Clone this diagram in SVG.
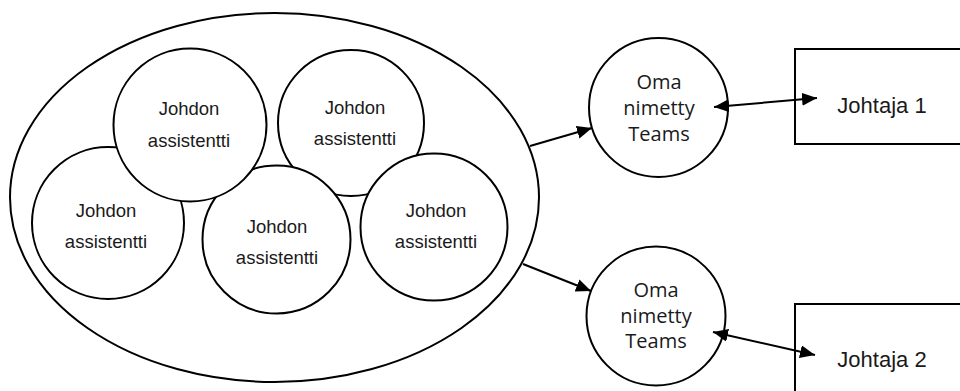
<svg xmlns="http://www.w3.org/2000/svg" width="960" height="391" viewBox="0 0 960 391">
<style>
.shape{fill:#fff;stroke:#000;stroke-width:2}
.a{font-family:"Liberation Sans",Arial,sans-serif;font-size:18.5px;fill:#1a1a1a;text-anchor:middle}
.o{font-family:"Open Sans","Liberation Sans",sans-serif;font-size:20px;fill:#1a1a1a;text-anchor:middle}
.j{font-family:"Liberation Sans",Arial,sans-serif;font-size:22px;fill:#1a1a1a;text-anchor:middle}
.c{stroke:#000;stroke-width:2;fill:none}
</style>
<defs>
<marker id="ah" markerUnits="userSpaceOnUse" markerWidth="16" markerHeight="14" refX="15" refY="6.5" orient="auto-start-reverse">
<path d="M0,0 L15,6.5 L0,13 z" fill="#000"/>
</marker>
</defs>
<rect width="960" height="391" fill="#fff"/>
<g id="group">
<ellipse class="shape" cx="274.5" cy="197.5" rx="264.5" ry="184.5"/>
</g>
<g id="assistentti3">
<circle class="shape" cx="108" cy="223" r="76"/>
<text class="a" x="106" y="217">Johdon</text>
<text class="a" x="106" y="248">assistentti</text>
</g>
<g id="assistentti2">
<circle class="shape" cx="351" cy="123" r="73"/>
<text class="a" x="355" y="114">Johdon</text>
<text class="a" x="355" y="145">assistentti</text>
</g>
<g id="assistentti4">
<circle class="shape" cx="276.5" cy="239.5" r="74"/>
<text class="a" x="277" y="233">Johdon</text>
<text class="a" x="277" y="264">assistentti</text>
</g>
<g id="assistentti5">
<circle class="shape" cx="434" cy="227" r="73.5"/>
<text class="a" x="436" y="217">Johdon</text>
<text class="a" x="436" y="248">assistentti</text>
</g>
<g id="assistentti1">
<circle class="shape" cx="190" cy="125" r="76.5"/>
<text class="a" x="189" y="115">Johdon</text>
<text class="a" x="189" y="146.5">assistentti</text>
</g>
<g id="teams1">
<circle class="shape" cx="658.5" cy="107.5" r="69.5"/>
<text class="o" x="659" y="89">Oma</text>
<text class="o" x="659" y="115">nimetty</text>
<text class="o" x="659" y="141">Teams</text>
</g>
<g id="teams2">
<circle class="shape" cx="656" cy="316" r="69.5"/>
<text class="o" x="656" y="297">Oma</text>
<text class="o" x="656" y="323">nimetty</text>
<text class="o" x="656" y="348">Teams</text>
</g>
<g id="johtaja1">
<rect class="shape" x="795" y="49" width="170" height="95"/>
<text class="j" x="882" y="112.5">Johtaja 1</text>
</g>
<g id="johtaja2">
<rect class="shape" x="795" y="304" width="170" height="95"/>
<text class="j" x="882" y="367">Johtaja 2</text>
</g>
<g id="connectors">
<line class="c" x1="530" y1="146" x2="592" y2="128" marker-end="url(#ah)"/>
<line class="c" x1="523" y1="264" x2="591" y2="291" marker-end="url(#ah)"/>
<line class="c" x1="714" y1="107" x2="817" y2="98" marker-start="url(#ah)" marker-end="url(#ah)"/>
<line class="c" x1="713" y1="332" x2="815" y2="355" marker-start="url(#ah)" marker-end="url(#ah)"/>
</g>
</svg>
